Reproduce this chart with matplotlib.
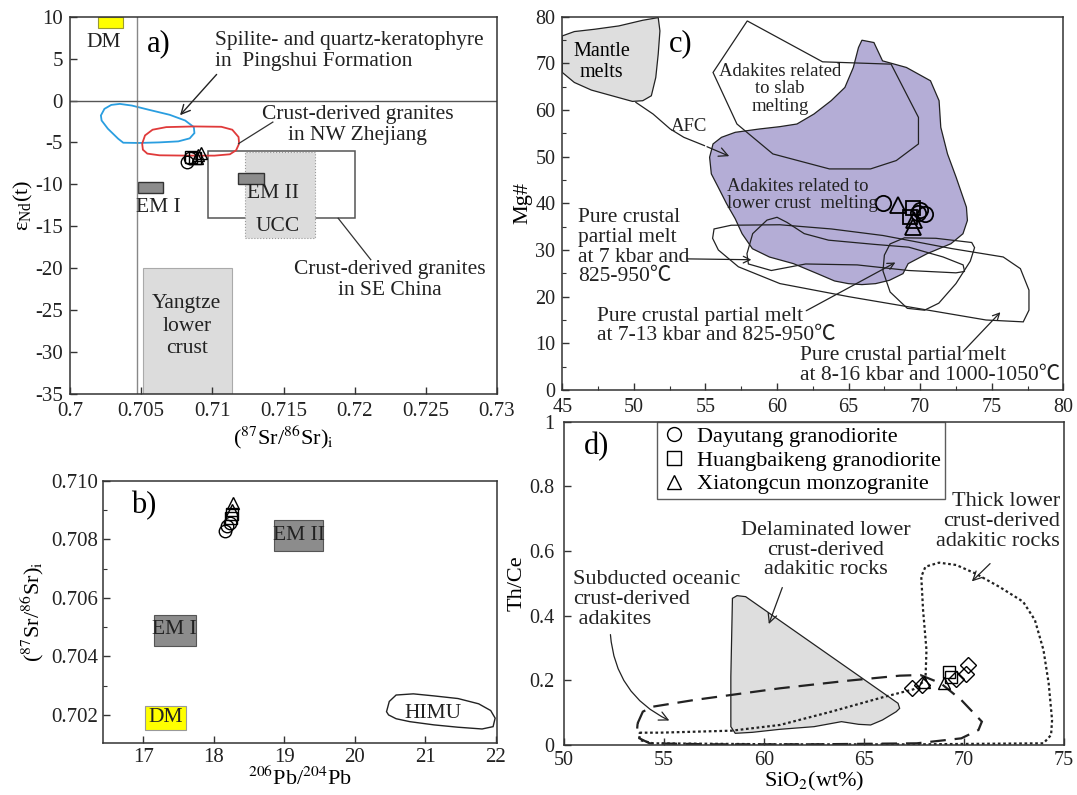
import matplotlib
matplotlib.use("Agg")
import matplotlib.pyplot as plt
from matplotlib.patches import Polygon, Rectangle
from matplotlib.lines import Line2D
from matplotlib.ticker import FuncFormatter, MultipleLocator

plt.rcParams["font.family"] = ["Liberation Serif", "Noto Sans CJK SC", "DejaVu Serif"]
plt.rcParams["mathtext.fontset"] = "stix"
plt.rcParams["axes.unicode_minus"] = False

# ---------------- panel a data: eNd(t) vs (87Sr/86Sr)i ----------------
a_circ_x = [0.7082, 0.7084]
a_circ_y = [-7.3, -6.9]
a_sq_x = [0.7085, 0.7088]
a_sq_y = [-6.7, -6.9]
a_tri_x = [0.7089, 0.7090, 0.7092]
a_tri_y = [-6.9, -6.5, -6.3]
pingshui_x = [0.70217, 0.70242, 0.70290, 0.70350, 0.70435, 0.70556, 0.70700, 0.70809, 0.70870,
              0.70874, 0.70841, 0.70761, 0.70628, 0.70483, 0.70374, 0.70338, 0.70266, 0.70222]
pingshui_y = [-1.78, -0.99, -0.52, -0.40, -0.60, -1.11, -1.70, -2.38, -3.17,
              -3.88, -4.51, -4.87, -4.99, -5.06, -5.03, -4.55, -3.36, -2.38]
zhejiang_x = [0.70507, 0.70527, 0.70580, 0.70676, 0.70870, 0.71063, 0.71140, 0.71184,
              0.71188, 0.71167, 0.71123, 0.71015, 0.70821, 0.70628, 0.70543, 0.70512]
zhejiang_y = [-5.14, -4.16, -3.48, -3.17, -3.09, -3.13, -3.48, -4.35,
              -5.14, -5.93, -6.41, -6.57, -6.57, -6.53, -6.33, -5.86]
# boxes: x0, x1, y0, y1
a_dm = [0.7020, 0.7037, 8.7, 10.0]
a_em1 = [0.7048, 0.7065, -11.0, -9.7]
a_em2 = [0.7118, 0.7136, -10.0, -8.7]
a_ucc = [0.7123, 0.7172, -16.4, -6.1]
a_sechina = [0.7097, 0.7200, -14.0, -6.0]
a_yangtze = [0.7051, 0.7114, -35.0, -20.0]
a_xticks = [0.7, 0.705, 0.71, 0.715, 0.72, 0.725, 0.73]
a_yticks = [10, 5, 0, -5, -10, -15, -20, -25, -30, -35]

# ---------------- panel b data: 87Sr/86Sr vs 206Pb/204Pb ----------------
b_circ_x = [18.15, 18.19, 18.23]
b_circ_y = [0.70829, 0.70844, 0.70855]
b_sq_x = [18.24, 18.26]
b_sq_y = [0.70872, 0.70886]
b_tri_x = [18.26, 18.27]
b_tri_y = [0.70901, 0.70924]
himu_x = [20.449, 20.488, 20.585, 20.829, 21.122, 21.463, 21.756, 21.927, 21.990, 21.961,
          21.805, 21.463, 21.122, 20.780, 20.585, 20.478]
himu_y = [0.70211, 0.70246, 0.70268, 0.70272, 0.70265, 0.70256, 0.70238, 0.70215, 0.70189,
          0.70160, 0.70152, 0.70158, 0.70166, 0.70177, 0.70187, 0.70200]
b_dm = [17.02, 17.61, 0.70149, 0.70231]
b_em1 = [17.15, 17.74, 0.70434, 0.70541]
b_em2 = [18.85, 19.55, 0.70761, 0.70867]
b_xticks = [17, 18, 19, 20, 21, 22]
b_yticks = [0.702, 0.704, 0.706, 0.708, 0.710]

# ---------------- panel c data: Mg# vs SiO2 ----------------
c_circ_x = [67.43, 69.99, 70.34, 69.85]
c_circ_y = [40.1, 38.55, 37.8, 37.9]
c_sq_x = [69.52, 69.29]
c_sq_y = [38.9, 37.1]
c_tri_x = [68.47, 69.52, 69.6]
c_tri_y = [39.6, 35.0, 36.5]
mantle_x = [45.0, 45.84, 47.27, 48.95, 50.62, 51.70, 51.82, 51.70, 51.53, 51.22, 50.62, 49.90,
            48.47, 47.03, 45.84, 45.0]
mantle_y = [75.85, 76.78, 77.28, 77.99, 79.2, 79.77, 76.92, 71.94, 66.95, 63.03, 61.97, 61.82,
            63.03, 64.25, 65.88, 68.02]
lowercrust_x = [65.69, 65.93, 66.77, 67.37, 69.04, 70.72, 71.32, 71.44, 71.91, 72.51, 73.23, 73.30,
                72.99, 72.15, 70.48, 69.16, 68.80, 67.85, 66.89, 65.93, 64.98, 64.02, 62.82, 61.15,
                59.47, 58.28, 57.56, 57.08, 56.48, 55.89, 55.41, 55.29, 55.53, 56.12, 57.08, 58.76,
                60.19, 61.39, 62.58, 63.78, 64.74, 65.33]
lowercrust_y = [73.36, 74.93, 74.43, 70.51, 69.09, 66.24, 61.97, 56.27, 50.57, 45.58, 39.17, 36.32,
                33.48, 31.34, 29.20, 27.07, 24.93, 23.50, 22.79, 22.58, 22.79, 23.36, 24.93, 27.07,
                28.49, 30.27, 33.48, 36.68, 39.89, 43.45, 46.30, 49.86, 52.71, 54.13, 55.20, 55.91,
                56.41, 56.98, 59.12, 61.97, 64.81, 69.09]
slab_x = [57.92, 63.18, 67.97, 69.88, 69.88, 68.33, 66.53, 63.66, 59.71, 57.20, 55.53]
slab_y = [79.06, 70.30, 69.80, 58.40, 52.71, 49.15, 47.36, 47.36, 50.57, 56.98, 68.02]
afc_x = [50.14, 51.34, 52.54, 53.49, 54.93, 56.84]
afc_y = [61.61, 59.12, 55.91, 54.13, 52.35, 49.86]
# pure crustal partial melt fields
melt16_x = [55.6, 56.8, 60.2, 63.8, 67.4, 72.2, 75.8, 77.0, 77.6, 77.6, 77.2, 74.6, 69.8, 65.0,
            60.2, 57.3, 55.9, 55.5]
melt16_y = [34.5, 35.3, 35.4, 34.5, 33.1, 30.3, 28.5, 26.0, 21.4, 17.1, 14.6, 15.0, 17.5, 20.0,
            22.8, 26.4, 30.0, 32.5]
melt7_x = [57.9, 58.3, 59.3, 60.0, 60.7, 61.9, 63.6, 66.8, 69.2, 71.6, 73.0, 73.1, 72.5, 69.2,
           65.6, 62.0, 59.6, 58.0]
melt7_y = [29.2, 33.5, 36.4, 37.0, 35.9, 33.5, 32.1, 31.2, 30.6, 28.5, 26.8, 25.4, 25.1, 25.6,
           26.8, 27.0, 25.6, 27.0]
melt13_x = [67.5, 67.9, 68.9, 71.1, 73.6, 73.8, 73.5, 72.5, 71.3, 70.3, 69.1, 67.9, 67.4]
melt13_y = [28.9, 31.3, 32.6, 32.5, 31.6, 30.5, 27.6, 22.8, 18.6, 17.1, 17.5, 21.0, 25.5]
c_xticks = [45, 50, 55, 60, 65, 70, 75, 80]
c_yticks = [0, 10, 20, 30, 40, 50, 60, 70, 80]

# ---------------- panel d data: Th/Ce vs SiO2 ----------------
d_dia_x = [67.38, 67.9, 69.61, 70.12, 70.21]
d_dia_y = [0.175, 0.185, 0.205, 0.220, 0.247]
d_sq_x = [69.26, 69.35]
d_sq_y = [0.227, 0.211]
d_tri_x = [67.98, 69.0]
d_tri_y = [0.196, 0.193]
delam_x = [58.42, 58.65, 59.08, 66.70, 66.78, 66.61, 65.92, 65.33, 64.73, 63.87, 62.50, 60.79,
           59.42, 58.56, 58.34, 58.34]
delam_y = [0.4536, 0.4619, 0.4588, 0.1289, 0.1134, 0.1031, 0.0773, 0.0619, 0.0639, 0.0722,
           0.0567, 0.0485, 0.0392, 0.0361, 0.0567, 0.2113]
oceanic_x = [53.68, 53.94, 54.45, 56.51, 60.79, 64.21, 66.78, 67.81, 68.84, 69.86, 70.89, 70.72,
             69.86, 67.64, 62.50, 57.36, 54.28, 53.77, 53.65]
oceanic_y = [0.0670, 0.1031, 0.1186, 0.1392, 0.1753, 0.1990, 0.2144, 0.2165, 0.1907, 0.1392,
             0.0722, 0.0464, 0.0206, 0.0052, 0.0021, 0.0021, 0.0052, 0.0206, 0.0464]
thick_x = [53.77, 54.79, 58.39, 60.79, 63.36, 65.92, 67.47, 68.07, 68.12, 67.95, 67.86, 68.07,
           68.75, 69.61, 70.55, 71.75, 72.95, 73.54, 73.97, 74.23, 74.40, 74.35, 73.97, 67.64,
           60.79, 54.45, 53.77]
thick_y = [0.0381, 0.0381, 0.0443, 0.0619, 0.1031, 0.1474, 0.1722, 0.2010, 0.2938, 0.4175,
           0.5206, 0.5515, 0.5639, 0.5567, 0.5309, 0.4897, 0.4433, 0.3866, 0.2938, 0.1907,
           0.0773, 0.0309, 0.0052, 0.0021, 0.0021, 0.0052, 0.0155]
d_xticks = [50, 55, 60, 65, 70, 75]
d_yticks = [0, 0.2, 0.4, 0.6, 0.8, 1]
legend_names = ["Dayutang granodiorite", "Huangbaikeng granodiorite", "Xiatongcun monzogranite"]

# ---------------------------------------------------------------------
fig = plt.figure(figsize=(10.77, 7.95), dpi=100)
axa = fig.add_axes([0.065, 0.5044, 0.3965, 0.4746])
axb = fig.add_axes([0.0959, 0.065, 0.3658, 0.3303])
axc = fig.add_axes([0.5221, 0.5094, 0.4652, 0.4698])
axd = fig.add_axes([0.5237, 0.0629, 0.4643, 0.4067])

fmt = FuncFormatter(lambda v, p: "%g" % v)
for ax in (axa, axb, axc, axd):
    for s in ax.spines.values():
        s.set_color("#333333")
        s.set_linewidth(1.1)
    ax.tick_params(direction="in", length=5, width=1.0, color="#333333", labelsize=15,
                   labelcolor="#222222", top=False, right=False)
    ax.tick_params(which="minor", direction="in", length=3, width=0.8, color="#333333")

mk = dict(linestyle="none", mfc="none", mec="black", mew=1.0)


def box(ax, b, **kw):
    ax.add_patch(Rectangle((b[0], b[2]), b[1] - b[0], b[3] - b[2], **kw))


# ---- panel a ----
axa.set_xlim(0.7, 0.73)
axa.set_ylim(-35, 10)
axa.set_xticks(a_xticks)
axa.set_yticks(a_yticks)
axa.xaxis.set_major_formatter(fmt)
axa.yaxis.set_major_formatter(fmt)
axa.tick_params(axis="x", pad=6)
axa.tick_params(axis="y", pad=5)
axa.axvline(0.7047, color="#888888", lw=1.0)
axa.axhline(0, color="#555555", lw=1.0)
box(axa, a_sechina, fc="white", ec="#555555", lw=1.1)
box(axa, a_ucc, fc="#dcdcdc", ec="#999999", lw=0.8, ls=":")
box(axa, a_yangtze, fc="#dcdcdc", ec="#aaaaaa", lw=0.8)
box(axa, a_dm, fc="#ffff00", ec="#999933", lw=0.8)
box(axa, a_em1, fc="#8c8c8c", ec="#333333", lw=1.0)
box(axa, a_em2, fc="#8c8c8c", ec="#333333", lw=1.0)
axa.add_patch(Polygon(list(zip(pingshui_x, pingshui_y)), closed=True, fill=False,
                      ec="#2a9ee0", lw=1.3))
axa.add_patch(Polygon(list(zip(zhejiang_x, zhejiang_y)), closed=True, fill=False,
                      ec="#e03a3a", lw=1.3))
axa.plot(a_circ_x, a_circ_y, marker="o", ms=9, **mk)
axa.plot(a_sq_x, a_sq_y, marker="s", ms=8, **mk)
axa.plot(a_tri_x, a_tri_y, marker="^", ms=9, **mk)
tk = dict(fontsize=15.5, color="#222222")
axa.text(0.7024, 6.9, "DM", ha="center", va="center", **tk)
axa.text(0.7062, 6.8, "a)", ha="center", va="center", fontsize=22)
axa.text(0.7062, -12.7, "EM I", ha="center", va="center", **tk)
axa.text(0.71425, -11.1, "EM II", ha="center", va="center", **tk)
axa.text(0.7146, -15.0, "UCC", ha="center", va="center", **tk)
axa.text(0.7082, -26.9, "Yangtze\nlower\ncrust", ha="center", va="center", linespacing=1.25, **tk)
axa.text(0.7102, 5.9, "Spilite- and quartz-keratophyre\nin  Pingshui Formation", ha="left",
         va="center", linespacing=1.15, **tk)
axa.annotate("", xy=(0.7076, -2.0), xytext=(0.71043, 3.36),
             arrowprops=dict(arrowstyle="->", color="#222222", lw=1.0, mutation_scale=16))
axa.text(0.7202, -2.9, "Crust-derived granites\nin NW Zhejiang", ha="center", va="center",
         linespacing=1.15, **tk)
axa.plot([0.71425, 0.71184], [-2.57, -5.14], color="#333333", lw=0.9)
axa.text(0.7225, -21.4, "Crust-derived granites\nin SE China", ha="center", va="center",
         linespacing=1.15, **tk)
axa.plot([0.71884, 0.72113], [-14.04, -18.98], color="#333333", lw=0.9)
axa.set_ylabel(r"$\mathregular{\varepsilon_{Nd}(t)}$", fontsize=16, labelpad=0)
axa.set_xlabel(r"($^{87}$Sr/$^{86}$Sr)$_{\rm i}$", fontsize=16, labelpad=2)

# ---- panel b ----
axb.set_xlim(16.43, 22.02)
axb.set_ylim(0.70103, 0.710)
axb.set_xticks(b_xticks)
axb.set_yticks(b_yticks)
axb.yaxis.set_minor_locator(MultipleLocator(0.001))
axb.yaxis.set_major_formatter(FuncFormatter(lambda v, p: "%.3f" % v))
box(axb, b_dm, fc="#ffff00", ec="#999999", lw=0.8)
box(axb, b_em1, fc="#8c8c8c", ec="#555555", lw=0.8)
box(axb, b_em2, fc="#8c8c8c", ec="#555555", lw=0.8)
axb.add_patch(Polygon(list(zip(himu_x, himu_y)), closed=True, fill=False, ec="#222222", lw=1.0))
axb.text(17.31, 0.70191, "DM", ha="center", va="center", **tk)
axb.text(17.44, 0.70491, "EM I", ha="center", va="center", **tk)
axb.text(19.2, 0.70813, "EM II", ha="center", va="center", **tk)
axb.text(21.11, 0.70206, "HIMU", ha="center", va="center", **tk)
axb.text(17.0, 0.70915, "b)", ha="center", va="center", fontsize=22)
axb.plot(b_circ_x, b_circ_y, marker="o", ms=9, **mk)
axb.plot(b_sq_x, b_sq_y, marker="s", ms=8, **mk)
axb.plot(b_tri_x, b_tri_y, marker="^", ms=9, **mk)
axb.set_xlabel(r"$^{206}$Pb/$^{204}$Pb", fontsize=16, labelpad=0)
axb.set_ylabel(r"($^{87}$Sr/$^{86}$Sr)$_{\rm i}$", fontsize=16, labelpad=4)

# ---- panel c ----
axc.set_xlim(45, 80)
axc.set_ylim(0, 80)
axc.set_xticks(c_xticks)
axc.set_yticks(c_yticks)
axc.xaxis.set_minor_locator(MultipleLocator(2.5))
axc.yaxis.set_minor_locator(MultipleLocator(5))
axc.tick_params(labelsize=14.5)
axc.tick_params(axis="x", pad=6)
axc.tick_params(axis="y", pad=5)
axc.add_patch(Polygon(list(zip(lowercrust_x, lowercrust_y)), closed=True, fc="#b4add6",
                      ec="#222222", lw=0.9))
axc.add_patch(Polygon(list(zip(mantle_x, mantle_y)), closed=True, fc="#dedede", ec="#222222",
                      lw=0.9))
axc.add_patch(Polygon(list(zip(slab_x, slab_y)), closed=True, fill=False, ec="#222222", lw=0.9))
for mx, my in ((melt16_x, melt16_y), (melt7_x, melt7_y), (melt13_x, melt13_y)):
    axc.add_patch(Polygon(list(zip(mx, my)), closed=True, fill=False, ec="#222222", lw=0.9))
axc.plot(afc_x[:-1], afc_y[:-1], color="#222222", lw=0.9)
axc.annotate("", xy=(afc_x[-1], afc_y[-1]), xytext=(afc_x[-2], afc_y[-2]),
             arrowprops=dict(arrowstyle="->", color="#222222", lw=0.9, mutation_scale=16))
tc = dict(fontsize=13.5, color="#222222")
tp = dict(fontsize=15.5, color="#222222")
axc.text(47.75, 70.3, "Mantle\nmelts", ha="center", va="center", linespacing=1.1, fontsize=14.5)
axc.text(53.25, 74.1, "c)", ha="center", va="center", fontsize=22)
axc.text(60.2, 64.5, "Adakites related\nto slab\nmelting", ha="center", va="center",
         linespacing=1.05, **tc)
axc.text(53.85, 56.4, "AFC", ha="center", va="center", **tc)
axc.text(56.5, 41.8, "Adakites related to\nlower crust  melting", ha="left", va="center",
         linespacing=1.05, **tc)
axc.text(46.1, 30.6, "Pure crustal\npartial melt\nat 7 kbar and\n825-950\u2103", ha="left",
         va="center", linespacing=1.05, **tp)
axc.annotate("", xy=(58.4, 27.9), xytext=(53.5, 28.1),
             arrowprops=dict(arrowstyle="->", color="#222222", lw=0.9, mutation_scale=12))
axc.text(47.4, 13.7, "Pure crustal partial melt\nat 7-13 kbar and 825-950\u2103", ha="left",
         va="center", linespacing=1.05, **tp)
axc.annotate("", xy=(68.44, 27.6), xytext=(61.87, 16.7),
             arrowprops=dict(arrowstyle="->", color="#222222", lw=0.9, mutation_scale=12))
axc.text(61.6, 5.25, "Pure crustal partial melt\nat 8-16 kbar and 1000-1050\u2103", ha="left",
         va="center", linespacing=1.05, **tp)
axc.annotate("", xy=(75.74, 17.1), xytext=(72.87, 7.83),
             arrowprops=dict(arrowstyle="->", color="#222222", lw=0.9, mutation_scale=12))
mk2 = dict(linestyle="none", mfc="none", mec="black", mew=1.3)
axc.plot(c_circ_x, c_circ_y, marker="o", ms=11, **mk2)
axc.plot(c_sq_x, c_sq_y, marker="s", ms=10, **mk2)
axc.plot(c_tri_x, c_tri_y, marker="^", ms=11, **mk2)
axc.set_ylabel("Mg#", fontsize=16, labelpad=2)

# ---- panel d ----
axd.set_xlim(50, 75)
axd.set_ylim(0, 1)
axd.set_xticks(d_xticks)
axd.set_yticks(d_yticks)
axd.yaxis.set_major_formatter(fmt)
axd.tick_params(labelsize=14.5)
axd.tick_params(axis="x", pad=4)
axd.tick_params(axis="y", pad=7)
axd.add_patch(Polygon(list(zip(delam_x, delam_y)), closed=True, fc="#dedede", ec="#222222",
                      lw=0.9))
axd.add_patch(Polygon(list(zip(oceanic_x, oceanic_y)), closed=True, fill=False, ec="#222222",
                      lw=1.6, ls=(0, (7, 4))))
axd.add_patch(Polygon(list(zip(thick_x, thick_y)), closed=True, fill=False, ec="#222222",
                      lw=1.6, ls=(0, (1.2, 1.2))))
axd.plot(d_dia_x, d_dia_y, marker="D", ms=8, **mk)
axd.plot(d_sq_x, d_sq_y, marker="s", ms=8, **mk)
axd.plot(d_tri_x, d_tri_y, marker="^", ms=8, **mk)
td = dict(fontsize=16, color="#222222")
axd.text(51.63, 0.923, "d)", ha="center", va="center", fontsize=22)
axd.text(50.45, 0.45, "Subducted oceanic\ncrust-derived\n adakites", ha="left", va="center",
         linespacing=1.05, **td)
axd.annotate("", xy=(55.39, 0.072), xytext=(52.31, 0.35),
             arrowprops=dict(arrowstyle="->", color="#222222", lw=0.9, mutation_scale=16,
                             connectionstyle="arc3,rad=0.3"))
axd.text(63.1, 0.603, "Delaminated lower\ncrust-derived\nadakitic rocks", ha="center",
         va="center", linespacing=1.05, **td)
axd.annotate("", xy=(60.19, 0.366), xytext=(60.96, 0.495),
             arrowprops=dict(arrowstyle="->", color="#222222", lw=0.9, mutation_scale=16))
axd.text(74.8, 0.691, "Thick lower\ncrust-derived\nadakitic rocks", ha="right", va="center",
         linespacing=1.05, **td)
axd.annotate("", xy=(70.29, 0.50), xytext=(71.4, 0.567),
             arrowprops=dict(arrowstyle="->", color="#222222", lw=0.9, mutation_scale=16))
handles = [Line2D([], [], marker=m, ms=10, **mk) for m in ("o", "s", "^")]
leg = axd.legend(handles, legend_names, loc="upper left", bbox_to_anchor=(0.185, 1.0),
                 fontsize=16, frameon=True, fancybox=False, edgecolor="#333333",
                 borderpad=0.2, labelspacing=0.15, handletextpad=0.4, handlelength=1.2,
                 borderaxespad=0)
leg.get_frame().set_linewidth(1.0)
axd.set_ylabel("Th/Ce", fontsize=16, labelpad=2)
axd.set_xlabel(r"SiO$_2$(wt%)", fontsize=16, labelpad=0)

fig.savefig("out.png", dpi=100)
plt.close(fig)
